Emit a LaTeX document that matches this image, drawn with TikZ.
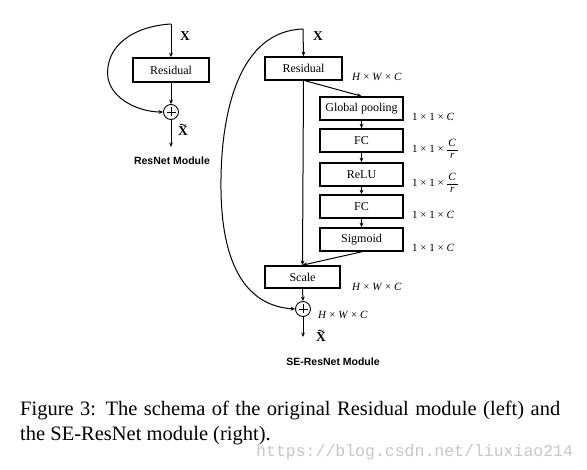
\documentclass[tikz,border=0pt]{standalone}
\usepackage{fontspec}
\setmainfont{Liberation Serif}
\newfontfamily\labsans{Liberation Sans}
\newfontfamily\wmfont{Liberation Mono}
\usetikzlibrary{arrows.meta}
\newcommand{\tms}{\hspace{0.25em}×\hspace{0.25em}}
\newcommand{\fracCr}{{\renewcommand{\arraystretch}{0.85}\setlength{\arrayrulewidth}{0.5pt}\begin{tabular}{@{\,}c@{\,}}\textit{C}\\\hline\textit{r}\end{tabular}}}
\begin{document}
\begin{tikzpicture}[x=1pt,y=-1pt,
  box/.style={draw,line width=1.7pt,inner sep=0pt,font=\fontsize{12}{14}\selectfont},
  conn/.style={line width=1pt,-{Stealth[length=4.5pt,width=3.8pt]}},
  plusnode/.style={circle,draw,line width=0.9pt,minimum size=15pt,inner sep=0pt},
  xlab/.style={font=\fontsize{13.5}{15}\selectfont\bfseries,inner sep=0pt},
  tildemark/.style={line width=0.8pt,line cap=round},
  dimlab/.style={anchor=base west,font=\fontsize{11}{13}\selectfont,inner sep=0pt},
  modtitle/.style={font=\fontsize{10.5}{12}\selectfont\labsans\bfseries,inner sep=0pt},
  captext/.style={anchor=base west,font=\fontsize{20.5}{25}\selectfont,inner sep=0pt},
]
\fill[white] (0,0) rectangle (587,470);
\useasboundingbox (0,0) rectangle (587,470);

% ---------- left: ResNet module ----------
\coordinate (lin) at (171,24);
\node[box,minimum width=76pt,minimum height=24pt] (lres) at (171,70) {Residual};
\node[plusnode] (lplus) at (171,112) {};
\coordinate (lout) at (171,147);
\draw[line width=0.7pt] (lplus.center) +(-4.5,0) -- +(4.5,0) (lplus.center) +(0,-4.5) -- +(0,4.5);
\draw[conn] (lin) -- (lres.north);
\draw[conn] (lres.south) -- (lplus.north);
\draw[conn] (lplus.south) -- (lout);
\draw[conn] (lin) .. controls (135,26) and (104,45) .. (108,78)
            .. controls (112,100) and (140,112) .. (lplus.west);
\node[xlab] (lx) at (185,36) {X};
\node[xlab] (lxh) at (183,131) {X};
\draw[tildemark] ([shift={(-2.6,-1.6)}]lxh.north) .. controls +(1.4,-2.2) and +(-1.4,2.2) .. ++(5.2,0);
\node[modtitle] (ltitle) at (172,161) {ResNet Module};

% ---------- right: SE-ResNet module ----------
\coordinate (rin) at (303,29);
\node[box,minimum width=77pt,minimum height=23pt] (rres) at (303.5,68.5) {Residual};
\node[box,minimum width=83pt,minimum height=23pt] (gp) at (361.5,108.5) {Global pooling};
\node[box,minimum width=83pt,minimum height=23pt] (fca) at (361.5,140.5) {FC};
\node[box,minimum width=83pt,minimum height=23pt] (relu) at (361.5,174.5) {ReLU};
\node[box,minimum width=83pt,minimum height=23pt] (fcb) at (361.5,206.5) {FC};
\node[box,minimum width=83pt,minimum height=23pt] (sig) at (361.5,239.5) {Sigmoid};
\node[box,minimum width=75pt,minimum height=22pt] (scale) at (302.5,277) {Scale};
\node[plusnode] (rplus) at (303,309) {};
\coordinate (rout) at (303,337);
\draw[line width=0.7pt] (rplus.center) +(-4.5,0) -- +(4.5,0) (rplus.center) +(0,-4.5) -- +(0,4.5);

\draw[conn] (rin) -- (rres.north);
\draw[conn] (rres.south) -- (scale.north);
\draw[conn] ([xshift=2pt]rres.south) -- (gp.north);
\draw[conn] (gp) -- (fca);
\draw[conn] (fca) -- (relu);
\draw[conn] (relu) -- (fcb);
\draw[conn] (fcb) -- (sig);
\draw[conn] (sig.south) -- (scale.north);
\draw[conn] (scale.south) -- (rplus.north);
\draw[conn] (rplus.south) -- (rout);
\draw[conn] (rin) .. controls (240,31) and (220,110) .. (221,190)
            .. controls (222,268) and (248,306) .. (rplus.west);

\node[xlab] (rx) at (318,36) {X};
\node[xlab] (rxh) at (321,337) {X};
\draw[tildemark] ([shift={(-2.6,-1.6)}]rxh.north) .. controls +(1.4,-2.2) and +(-1.4,2.2) .. ++(5.2,0);

\node[dimlab] (d0) at (352,81) {\textit{H}\tms\textit{W}\tms\textit{C}};
\node[dimlab] (d1) at (412,121) {1\tms 1\tms\textit{C}};
\node[dimlab] (d2) at (412,153) {1\tms 1\tms\fracCr};
\node[dimlab] (d3) at (412,187) {1\tms 1\tms\fracCr};
\node[dimlab] (d4) at (412,219) {1\tms 1\tms\textit{C}};
\node[dimlab] (d5) at (412,252) {1\tms 1\tms\textit{C}};
\node[dimlab] (d6) at (352,291) {\textit{H}\tms\textit{W}\tms\textit{C}};
\node[dimlab] (d7) at (318,319) {\textit{H}\tms\textit{W}\tms\textit{C}};

\node[modtitle] (rtitle) at (333,362) {SE-ResNet Module};

% ---------- caption ----------
\node[captext] (cap1) at (20,416) {\makebox[540pt][s]{Figure 3: The schema of the original Residual module (left) and}};
\node[captext] (cap2) at (20,441) {the SE-ResNet module (right).};
\node[anchor=base west,inner sep=0pt,text=black!22,font=\fontsize{16.5}{18}\selectfont\wmfont] (wm) at (256,457) {https://blog.csdn.net/liuxiao214};
\end{tikzpicture}
\end{document}
